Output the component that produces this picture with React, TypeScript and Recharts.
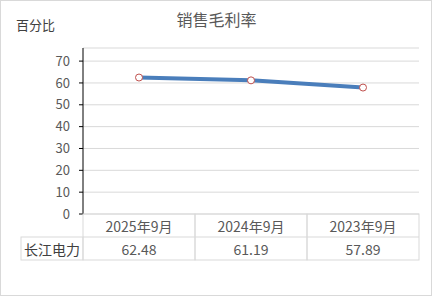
import { LineChart, Line, XAxis, YAxis, CartesianGrid } from 'recharts'

const categories = ['2025年9月', '2024年9月', '2023年9月']
const seriesName = '长江电力'
const margins = [62.48, 61.19, 57.89]
const yTicks = [0, 10, 20, 30, 40, 50, 60, 70]

const data = categories.map((c, i) => ({ period: c, value: margins[i] }))

const W = 433
const H = 297
const PLOT_LEFT = 83
const PLOT_RIGHT = 14
const COL_W = (W - PLOT_LEFT - PLOT_RIGHT) / categories.length
const ROW_H = 23
const LABEL_W = 62
const GRID = '#d9d9d9'
const TEXT = '#595959'
const FONT = '"Noto Sans CJK SC", "Noto Sans", sans-serif'

// the data table under the plot, one column per category tick
function TableTick(props: any) {
  const { x, y, payload, index } = props
  const left = x - COL_W / 2
  return (
    <g>
      <rect x={left} y={y} width={COL_W} height={ROW_H * 2} fill="none" stroke={GRID} />
      <line x1={left} x2={left + COL_W} y1={y + ROW_H} y2={y + ROW_H} stroke={GRID} />
      <text x={x} y={y + ROW_H / 2} textAnchor="middle" dominantBaseline="central"
        fontSize={14} fill={TEXT} fontFamily={FONT}>{payload.value}</text>
      <text x={x} y={y + ROW_H * 1.5} textAnchor="middle" dominantBaseline="central"
        fontSize={14} fill={TEXT} fontFamily={FONT}>{margins[index].toFixed(2)}</text>
      {index === 0 && (
        <g>
          <rect x={left - LABEL_W} y={y + ROW_H} width={LABEL_W} height={ROW_H} fill="none" stroke={GRID} />
          <text x={left - LABEL_W + 3} y={y + ROW_H * 1.5} dominantBaseline="central"
            fontSize={14} fill="#404040" fontFamily={FONT}>{seriesName}</text>
        </g>
      )}
    </g>
  )
}

export default function App() {
  return (
    <div style={{ position: 'absolute', left: 0, top: 0, width: W, height: H, fontFamily: FONT }}>
      <div style={{ position: 'absolute', left: 0, top: 0, width: W - 1, height: H - 1,
        boxSizing: 'border-box', border: `1px solid ${GRID}`, background: '#fff' }} />
      <div style={{ position: 'absolute', left: 0, width: W, top: 8, textAlign: 'center',
        fontSize: 16, color: TEXT, lineHeight: '22px' }}>销售毛利率</div>
      <div style={{ position: 'absolute', left: 16, top: 15, fontSize: 13, color: '#404040',
        lineHeight: '20px' }}>百分比</div>
      <div style={{ position: 'absolute', left: 0, top: 0 }}>
        <LineChart width={W} height={H} data={data}
          margin={{ top: 48, right: PLOT_RIGHT, bottom: 0, left: 0 }}>
          <CartesianGrid horizontal vertical={false} stroke={GRID} />
          <XAxis dataKey="period" height={83} axisLine={false} tickLine={false}
            tickSize={0} tickMargin={0} interval={0} tick={<TableTick />}
            padding={{ left: COL_W / 2, right: COL_W / 2 }} />
          <YAxis width={PLOT_LEFT} domain={[0, 76]} ticks={yTicks} interval={0}
            axisLine={{ stroke: '#000' }} tickLine={{ stroke: '#000' }} tickSize={4} tickMargin={9}
            tick={{ fontSize: 13, fill: TEXT, fontFamily: FONT }} />
          <Line type="linear" dataKey="value" stroke="#4a7ebb" strokeWidth={4}
            dot={{ r: 3.5, fill: '#fff', stroke: '#c0504d', strokeWidth: 1 }}
            activeDot={false} isAnimationActive={false} />
        </LineChart>
      </div>
    </div>
  )
}
